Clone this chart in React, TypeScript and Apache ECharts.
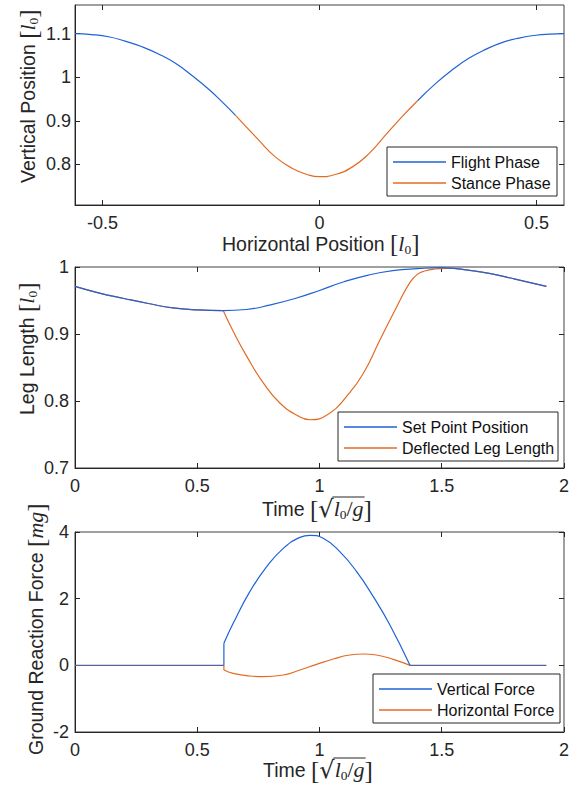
import React, { useEffect, useRef } from "react";
import * as echarts from "echarts";

// ---------- Panel 1: vertical vs horizontal position ----------
const flightLeftX = [-0.5635, -0.525, -0.486, -0.448, -0.409, -0.37, -0.332, -0.294, -0.256, -0.225, -0.194];
const flightLeftY = [1.1, 1.098, 1.093, 1.083, 1.07, 1.053, 1.032, 1.004, 0.973, 0.944, 0.913];
const stanceX = [-0.194, -0.1405, -0.102, -0.0636, -0.025, 0, 0.038, 0.076, 0.1145, 0.153, 0.191, 0.226];
const stanceY = [0.913, 0.856, 0.817, 0.791, 0.7754, 0.7715, 0.777, 0.794, 0.825, 0.868, 0.91, 0.946];
const flightRightX = [0.226, 0.268, 0.306, 0.345, 0.383, 0.422, 0.46, 0.499, 0.53, 0.5635];
const flightRightY = [0.946, 0.986, 1.017, 1.044, 1.064, 1.08, 1.09, 1.0965, 1.099, 1.1];
const p1XTicks = [-0.5, 0, 0.5];
const p1YTicks = [0.8, 0.9, 1, 1.1];

// ---------- Panel 2: leg length vs time ----------
const setPointT = [0, 0.1, 0.2, 0.3, 0.4, 0.5, 0.606, 0.7, 0.8, 0.9, 1.0, 1.1, 1.2, 1.3, 1.4, 1.5, 1.55, 1.6, 1.7, 1.8, 1.928];
const setPointL = [0.971, 0.961, 0.953, 0.9455, 0.939, 0.936, 0.935, 0.9366, 0.9435, 0.953, 0.965, 0.978, 0.988, 0.9945, 0.9975, 0.999, 0.998, 0.9958, 0.99, 0.982, 0.971];
const deflT = [0.606, 0.647, 0.702, 0.77, 0.838, 0.906, 0.961, 1.043, 1.111, 1.179, 1.247, 1.315, 1.37, 1.4, 1.43, 1.47, 1.52, 1.55];
const deflL = [0.935, 0.904, 0.867, 0.827, 0.797, 0.779, 0.772, 0.782, 0.807, 0.841, 0.891, 0.94, 0.977, 0.989, 0.994, 0.997, 0.998, 0.998];
const touchdownT = 0.606;
const liftoffT = 1.55;
const timeTicks = [0, 0.5, 1, 1.5, 2];
const p2YTicks = [0.7, 0.8, 0.9, 1];

// ---------- Panel 3: ground reaction force vs time ----------
const flatT1 = [0, 0.609];
const flatT2 = [1.37, 1.928];
const vertT = [0.609, 0.647, 0.715, 0.784, 0.852, 0.92, 0.961, 1.015, 1.083, 1.152, 1.22, 1.288, 1.37];
const vertF = [0.66, 1.26, 2.21, 2.96, 3.51, 3.84, 3.9, 3.81, 3.41, 2.81, 2.06, 1.21, 0];
const horzT = [0.609, 0.647, 0.715, 0.77, 0.852, 0.92, 0.988, 1.056, 1.124, 1.179, 1.233, 1.301, 1.37];
const horzF = [-0.14, -0.24, -0.32, -0.34, -0.29, -0.14, 0.03, 0.19, 0.31, 0.34, 0.31, 0.18, 0];
const p3YTicks = [-2, 0, 2, 4];

const BLUE = "#1f62d6";
const ORANGE = "#e36b22";
const OVERLAP = "#5b5f98";
const INK = "#262626";
const SANS = '"Liberation Sans", Arial, Helvetica, sans-serif';
const SERIF = '"Liberation Serif", "Times New Roman", serif';
const SYM = '"DejaVu Serif", "Liberation Serif", serif';

const zip = (xs: number[], ys: number[]) => xs.map((x, i) => [x, ys[i]]);

type Seg = { t: string; size: number; fam: string; it?: boolean; dy?: number; ovStart?: boolean; ovEnd?: boolean };

let _ctx: CanvasRenderingContext2D | null = null;
function measure(s: { t: string; size: number; fam: string; it?: boolean }) {
  if (!_ctx) _ctx = document.createElement("canvas").getContext("2d");
  _ctx!.font = `${s.it ? "italic " : ""}${s.size}px ${s.fam}`;
  return _ctx!.measureText(s.t).width;
}

function title(segs: Seg[], x0: number, base: number, rotated: boolean, ovRise = 0) {
  let acc = 0;
  let ovA: number | null = null;
  let ovB: number | null = null;
  const kids: any[] = [];
  segs.forEach((s) => {
    const w = measure(s);
    kids.push({
      type: "text",
      x: acc,
      y: (s.dy || 0) - 0.34 * s.size,
      silent: true,
      style: {
        text: s.t,
        fontSize: s.size,
        fontFamily: s.fam,
        fontStyle: s.it ? "italic" : "normal",
        fill: INK,
        textAlign: "left",
        textVerticalAlign: "middle",
        verticalAlign: "middle",
      },
    });
    if (s.ovStart) ovA = acc + w * 0.92;
    acc += w;
    if (s.ovEnd) ovB = acc + 1;
  });
  if (ovA != null && ovB != null) {
    kids.push({
      type: "line",
      silent: true,
      shape: { x1: ovA, y1: -ovRise, x2: ovB, y2: -ovRise },
      style: { stroke: INK, lineWidth: 1 },
    });
  }
  return { type: "group", x: x0, y: base, rotation: rotated ? Math.PI / 2 : 0, children: kids };
}

const bracketL = (): Seg => ({ t: "[", size: 25, fam: SERIF, dy: 1.5 });
const bracketR = (): Seg => ({ t: "]", size: 25, fam: SERIF, dy: 1.5 });
const l0 = (): Seg[] => [
  { t: "l", size: 22, fam: SERIF, it: true },
  { t: "0", size: 13.5, fam: SERIF, dy: 3.5 },
];
const timeSegs = (): Seg[] => [
  { t: "Time ", size: 19.5, fam: SANS },
  bracketL(),
  { t: "√", size: 24, fam: SYM, dy: 1, ovStart: true },
  { t: "l", size: 22, fam: SERIF, it: true },
  { t: "0", size: 13.5, fam: SERIF, dy: 3.5 },
  { t: "/", size: 22, fam: SERIF },
  { t: "g", size: 22, fam: SERIF, it: true, ovEnd: true },
  bracketR(),
];

function axisPair(grid: number, min: number, max: number, ticks: number[], isX: boolean, margin: number) {
  const main = {
    type: "value",
    gridIndex: grid,
    min,
    max,
    position: isX ? "bottom" : "left",
    axisLine: { show: true, onZero: false, lineStyle: { color: INK, width: 1 } },
    axisTick: { show: true, inside: true, length: 5, customValues: ticks, lineStyle: { color: INK, width: 1 } },
    axisLabel: {
      show: true,
      customValues: ticks,
      color: INK,
      fontSize: 18,
      fontFamily: SANS,
      margin,
      formatter: (v: number) => String(+Number(v).toFixed(4)),
    },
    splitLine: { show: false },
  };
  const mirror = {
    type: "value",
    gridIndex: grid,
    min,
    max,
    position: isX ? "top" : "right",
    axisLine: { show: false, onZero: false },
    axisTick: { show: true, inside: true, length: 5, customValues: ticks, lineStyle: { color: INK, width: 1 } },
    axisLabel: { show: false },
    splitLine: { show: false },
  };
  return [main, mirror];
}

function line(name: string, color: string, data: number[][], xi: number, z: number, smooth: number | boolean) {
  return {
    name,
    type: "line",
    xAxisIndex: xi,
    yAxisIndex: xi,
    data,
    z,
    smooth,
    symbol: "none",
    showSymbol: false,
    color,
    lineStyle: { color, width: 1.2 },
    itemStyle: { color },
    silent: true,
  };
}

function legend(names: string[], left: number, top: number, right: number) {
  const padL = 6;
  const maxW = Math.max(...names.map((n) => measure({ t: n, size: 16, fam: SANS })));
  const padR = Math.max(2, right - (left + padL + 53 + 5 + maxW));
  return {
    data: names,
    orient: "vertical",
    left,
    top,
    icon: "rect",
    itemWidth: 53,
    itemHeight: 1.4,
    itemGap: 5,
    padding: [7, padR, 5, padL],
    borderColor: INK,
    borderWidth: 1,
    borderRadius: 0,
    backgroundColor: "#ffffff",
    selectedMode: false,
    itemStyle: { borderWidth: 0 },
    textStyle: { fontSize: 16, color: "#111", fontFamily: SANS, lineHeight: 16 },
  };
}

function buildOption() {
  const [x1, x1m] = axisPair(0, -0.5635, 0.5635, p1XTicks, true, 9);
  const [y1, y1m] = axisPair(0, 0.7064, 1.166, p1YTicks, false, 4);
  const [x2, x2m] = axisPair(1, 0, 2, timeTicks, true, 9);
  const [y2, y2m] = axisPair(1, 0.7, 1, p2YTicks, false, 6);
  const [x3, x3m] = axisPair(2, 0, 2, timeTicks, true, 9);
  const [y3, y3m] = axisPair(2, -2, 4, p3YTicks, false, 6);

  const setPts = zip(setPointT, setPointL);
  const deflPre = setPts.filter((p) => p[0] <= touchdownT);
  const deflPost = setPts.filter((p) => p[0] >= liftoffT);

  const flat1 = zip(flatT1, flatT1.map(() => 0));
  const flat2 = zip(flatT2, flatT2.map(() => 0));
  const vJump = [[vertT[0], 0], [vertT[0], vertF[0]]];
  const hJump = [[horzT[0], 0], [horzT[0], horzF[0]]];

  const gridBase = { show: true, borderColor: "#404040", borderWidth: 1, backgroundColor: "#ffffff" };

  return {
    animation: false,
    backgroundColor: "#ffffff",
    grid: [
      { ...gridBase, left: 75, top: 5, width: 489, height: 200 },
      { ...gridBase, left: 75, top: 267, width: 489, height: 201 },
      { ...gridBase, left: 75, top: 532, width: 489, height: 200 },
    ],
    xAxis: [x1, x1m, x2, x2m, x3, x3m],
    yAxis: [y1, y1m, y2, y2m, y3, y3m],
    legend: [
      legend(["Flight Phase", "Stance Phase"], 387, 147, 557),
      legend(["Set Point Position", "Deflected Leg Length"], 338, 412, 558),
      legend(["Vertical Force", "Horizontal Force"], 373, 674, 560),
    ],
    series: [
      // panel 1
      line("Flight Phase", BLUE, zip(flightLeftX, flightLeftY), 0, 3, 0.5),
      line("Flight Phase", BLUE, zip(flightRightX, flightRightY), 0, 3, 0.5),
      line("Stance Phase", ORANGE, zip(stanceX, stanceY), 0, 3, 0.5),
      // panel 2
      line("Set Point Position", BLUE, setPts, 2, 4, 0.5),
      line("Deflected Leg Length", ORANGE, zip(deflT, deflL), 2, 3, 0.5),
      line("Deflected Leg Length", ORANGE, deflPre, 2, 2, 0.5),
      line("Deflected Leg Length", ORANGE, deflPost, 2, 2, 0.5),
      // panel 3
      line("Vertical Force", BLUE, zip(vertT, vertF), 4, 4, 0.5),
      line("Vertical Force", BLUE, vJump, 4, 4, false),
      line("Horizontal Force", ORANGE, zip(horzT, horzF), 4, 3, 0.5),
      line("Horizontal Force", ORANGE, hJump, 4, 3, false),
      // flight phases: both forces are zero, the two traces overlap
      line("Vertical Force", OVERLAP, flat1, 4, 5, false),
      line("Vertical Force", OVERLAP, flat2, 4, 5, false),
    ],
    graphic: [
      title([{ t: "Horizontal Position ", size: 19.5, fam: SANS }, bracketL(), ...l0(), bracketR()], 222, 250.5, false),
      title([{ t: "Vertical Position ", size: 19.5, fam: SANS }, bracketL(), ...l0(), bracketR()], 35, 183, true),
      title(timeSegs(), 262, 516, false, 19),
      title([{ t: "Leg Length ", size: 19.5, fam: SANS }, bracketL(), ...l0(), bracketR()], 34, 415, true),
      title(timeSegs(), 263, 777, false, 19),
      title(
        [
          { t: "Ground Reaction Force ", size: 19.5, fam: SANS },
          bracketL(),
          { t: "mg", size: 22, fam: SERIF, it: true },
          bracketR(),
        ],
        43,
        755,
        true
      ),
    ],
  };
}

export default function App() {
  const ref = useRef<HTMLDivElement>(null);
  useEffect(() => {
    document.body.style.margin = "0";
    document.body.style.background = "#ffffff";
    const chart = echarts.init(ref.current!, null, { renderer: "svg", width: 572, height: 789 });
    chart.setOption(buildOption() as any);
    return () => chart.dispose();
  }, []);
  return <div ref={ref} style={{ width: 572, height: 789, position: "absolute", left: 0, top: 0 }} />;
}
